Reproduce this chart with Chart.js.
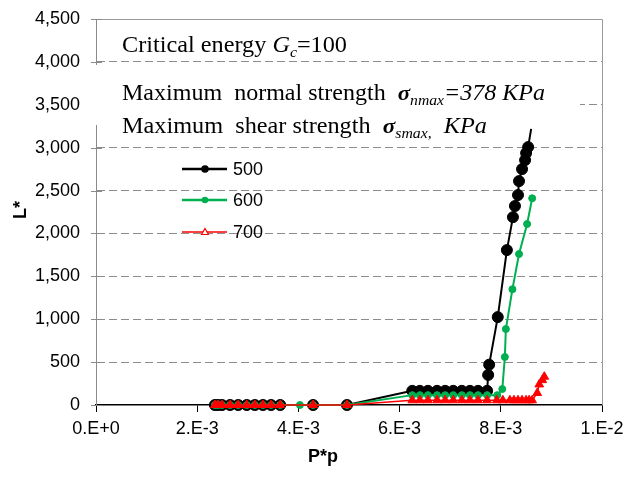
<!DOCTYPE html>
<html>
<head>
<meta charset="utf-8">
<script src="https://cdn.jsdelivr.net/npm/chart.js"></script>
<style>
  html, body { margin: 0; padding: 0; background: #fff; }
  #wrap { width: 627px; height: 478px; }
</style>
</head>
<body>
<div id="wrap"><canvas id="myChart" width="627" height="478"></canvas></div>
<script>
// values (x = P*p, y = L*)
const x500 = [0.00235, 0.00241, 0.00249, 0.00265, 0.00281, 0.00298, 0.00314, 0.00330, 0.00346, 0.00364,
  0.00429, 0.00496, 0.00625, 0.00640, 0.00656, 0.00674, 0.00690, 0.00706, 0.00723, 0.00739, 0.00755, 0.00773,
  0.00775, 0.00777, 0.00794, 0.00812, 0.00824, 0.00828, 0.00834, 0.00836, 0.00842, 0.00848, 0.00850, 0.00854, 0.00860];
const y500 = [0, 0, 0, 0, 0, 0, 0, 0, 0, 0,
  0, 0, 165, 165, 165, 165, 165, 165, 165, 165, 165, 165,
  350, 470, 1025, 1806, 2190, 2320, 2448, 2610, 2750, 2855, 2937, 3007, 3220];

const x600 = [0.00235, 0.00241, 0.00249, 0.00265, 0.00281, 0.00298, 0.00314, 0.00330, 0.00346, 0.00364,
  0.00403, 0.00429, 0.00496, 0.00625, 0.00640, 0.00656, 0.00674, 0.00690, 0.00706, 0.00723, 0.00739, 0.00755, 0.00773,
  0.00793, 0.00803, 0.00808, 0.00810, 0.00823, 0.00836, 0.00852, 0.00862];
const y600 = [0, 0, 0, 0, 0, 0, 0, 0, 0, 0,
  0, 0, 0, 115, 115, 115, 115, 115, 115, 115, 115, 115, 115,
  115, 186, 560, 886, 1350, 1760, 2110, 2410];

const x700 = [0.00235, 0.00241, 0.00249, 0.00265, 0.00281, 0.00298, 0.00314, 0.00330, 0.00346, 0.00364,
  0.00429, 0.00496, 0.00625, 0.00640, 0.00656, 0.00674, 0.00690, 0.00706, 0.00723, 0.00739, 0.00755, 0.00773,
  0.00792, 0.00804, 0.00818, 0.00826, 0.00834, 0.00842, 0.00850, 0.00856, 0.00862, 0.00872, 0.00876, 0.00882, 0.00886];
const y700 = [0, 0, 0, 0, 0, 0, 0, 0, 0, 0,
  0, 0, 55, 55, 55, 55, 55, 55, 55, 55, 55, 55,
  55, 55, 55, 55, 55, 55, 55, 55, 55, 140, 240, 290, 330];

const seriesNames = ['500', '600', '700'];
const xTickLabels = ['0.E+0', '2.E-3', '4.E-3', '6.E-3', '8.E-3', '1.E-2'];
const yTickLabels = ['0', '500', '1,000', '1,500', '2,000', '2,500', '3,000', '3,500', '4,000', '4,500'];

function pts(xs, ys) {
  return xs.map((x, i) => ({ x: x, y: ys[i] }));
}

const SANS = "'Liberation Sans', Arial, sans-serif";
const SERIF = "'Liberation Serif', 'Times New Roman', serif";

// scales should not push the plot area around
function noPad(s) {
  s.paddingTop = 0; s.paddingBottom = 0; s.paddingLeft = 0; s.paddingRight = 0;
}

// draws a line of mixed-font text squeezed/stretched to a given width
function drawRich(ctx, segs, x, base, width) {
  let total = 0;
  segs.forEach(s => { ctx.font = s.f; total += ctx.measureText(s.t).width; });
  ctx.save();
  ctx.translate(x, base);
  ctx.scale(width / total, 1);
  ctx.textBaseline = 'alphabetic';
  ctx.textAlign = 'left';
  ctx.fillStyle = '#000';
  let cx = 0;
  segs.forEach(s => {
    ctx.font = s.f;
    ctx.fillText(s.t, cx, s.dy || 0);
    cx += ctx.measureText(s.t).width;
  });
  ctx.restore();
}

const overlay = {
  id: 'overlay',
  afterDraw(chart) {
    const ctx = chart.ctx;
    const { left, right, top, bottom } = chart.chartArea;
    const ys = chart.scales.y;
    ctx.save();

    // plot frame top and right
    ctx.strokeStyle = '#9a9a9a';
    ctx.lineWidth = 1;
    ctx.beginPath();
    ctx.moveTo(left, top + 0.5);
    ctx.lineTo(right + 0.5, top + 0.5);
    ctx.lineTo(right + 0.5, bottom);
    ctx.stroke();

    // y ticks crossing the axis
    ctx.strokeStyle = '#8a8a8a';
    ys.ticks.forEach(t => {
      const py = Math.round(ys.getPixelForValue(t.value)) + 0.5;
      ctx.beginPath();
      ctx.moveTo(left - 5, py);
      ctx.lineTo(left + 6, py);
      ctx.stroke();
    });

    // white text box
    ctx.fillStyle = '#fff';
    ctx.fillRect(88, 65, 492, 60);

    const R = '23px ' + SERIF;
    const I = 'italic 23px ' + SERIF;
    const IB = 'italic bold 22px ' + SERIF;
    const S = 'italic 15px ' + SERIF;
    drawRich(ctx, [
      { t: 'Critical energy ', f: R },
      { t: 'G', f: I },
      { t: 'c', f: S, dy: 5 },
      { t: '=100', f: R }
    ], 122, 52, 225);
    drawRich(ctx, [
      { t: 'Maximum  normal strength  ', f: R },
      { t: 'σ', f: IB },
      { t: 'nmax', f: S, dy: 5 },
      { t: '=378 KPa', f: I }
    ], 122, 100, 423);
    drawRich(ctx, [
      { t: 'Maximum  shear strength  ', f: R },
      { t: 'σ', f: IB },
      { t: 'smax,', f: S, dy: 5 },
      { t: '  KPa', f: I }
    ], 122, 133, 365);

    // legend
    const rows = [169, 200, 232];
    const cols = ['#000000', '#00B050', '#FF0000'];
    ctx.font = '18px ' + SANS;
    ctx.textBaseline = 'middle';
    ctx.textAlign = 'left';
    seriesNames.forEach((name, i) => {
      const ry = rows[i];
      ctx.strokeStyle = cols[i];
      ctx.lineWidth = i === 2 ? 1.5 : 2.5;
      ctx.beginPath();
      ctx.moveTo(182, ry);
      ctx.lineTo(227, ry);
      ctx.stroke();
      if (i < 2) {
        ctx.fillStyle = cols[i];
        ctx.beginPath();
        ctx.arc(205, ry, i === 0 ? 3.8 : 3.3, 0, Math.PI * 2);
        ctx.fill();
      } else {
        ctx.fillStyle = '#fff';
        ctx.lineWidth = 1.2;
        ctx.beginPath();
        ctx.moveTo(205, ry - 3.5);
        ctx.lineTo(208.5, ry + 2.5);
        ctx.lineTo(201.5, ry + 2.5);
        ctx.closePath();
        ctx.fill();
        ctx.stroke();
      }
      ctx.fillStyle = '#000';
      ctx.fillText(name, 233, ry + 1);
    });

    // axis titles
    ctx.font = 'bold 18px ' + SANS;
    ctx.textAlign = 'center';
    ctx.fillStyle = '#000';
    ctx.fillText('P*p', 323, 457);
    ctx.save();
    ctx.translate(21, 210);
    ctx.rotate(-Math.PI / 2);
    ctx.fillText('L*', 0, 0);
    ctx.restore();

    ctx.restore();
  }
};

const ctx = document.getElementById('myChart').getContext('2d');

const myChart = new Chart(ctx, {
  type: 'line',
  data: {
    datasets: [{
      label: seriesNames[0],
      data: pts(x500, y500),
      borderColor: '#000000',
      backgroundColor: '#000000',
      borderWidth: 2,
      pointStyle: 'circle',
      pointRadius: c => (c.dataIndex === x500.length - 1 ? 0 : 5.5),
      pointBorderWidth: 1,
      order: 2,
      clip: false
    }, {
      label: seriesNames[1],
      data: pts(x600, y600),
      borderColor: '#00B050',
      backgroundColor: '#00B050',
      borderWidth: 2,
      pointStyle: 'circle',
      pointRadius: 3.5,
      pointBorderWidth: 1,
      order: 1,
      clip: false
    }, {
      label: seriesNames[2],
      data: pts(x700, y700),
      borderColor: '#FF0000',
      backgroundColor: '#FF0000',
      borderWidth: 1.5,
      pointStyle: 'triangle',
      pointRadius: 5,
      pointBorderWidth: 1,
      order: 0,
      clip: false
    }]
  },
  options: {
    responsive: false,
    animation: false,
    devicePixelRatio: 1,
    layout: { padding: { left: 0, right: 25, top: 19, bottom: 0 } },
    plugins: {
      legend: { display: false },
      tooltip: { enabled: false }
    },
    elements: { line: { tension: 0 } },
    scales: {
      x: {
        type: 'linear',
        min: 0,
        max: 0.01,
        afterFit: s => { s.height = 73; noPad(s); },
        afterBuildTicks: s => {
          s.ticks = xTickLabels.map((_, i) => ({ value: i * 0.002 }));
        },
        ticks: {
          color: '#000',
          font: { family: SANS, size: 18 },
          padding: 6,
          maxRotation: 0,
          autoSkip: false,
          callback: (v, i) => xTickLabels[i]
        },
        grid: { drawOnChartArea: false, drawTicks: true, tickLength: 7, color: '#000' },
        border: { display: true, color: '#000', width: 1.5 }
      },
      y: {
        min: 0,
        max: 4500,
        afterFit: s => { s.width = 96; noPad(s); },
        afterBuildTicks: s => {
          s.ticks = yTickLabels.map((_, i) => ({ value: i * 500 }));
        },
        ticks: {
          color: '#000',
          font: { family: SANS, size: 18 },
          padding: 16,
          autoSkip: false,
          callback: (v, i) => yTickLabels[i]
        },
        grid: {
          drawTicks: false,
          color: c => (c.tick && (c.tick.value === 0 || c.tick.value === 4500) ? 'rgba(0,0,0,0)' : '#8c8c8c'),
          lineWidth: 1
        },
        border: { display: true, color: '#8a8a8a', width: 1, dash: [8, 4] }
      }
    }
  },
  plugins: [overlay]
});
</script>
</body>
</html>
